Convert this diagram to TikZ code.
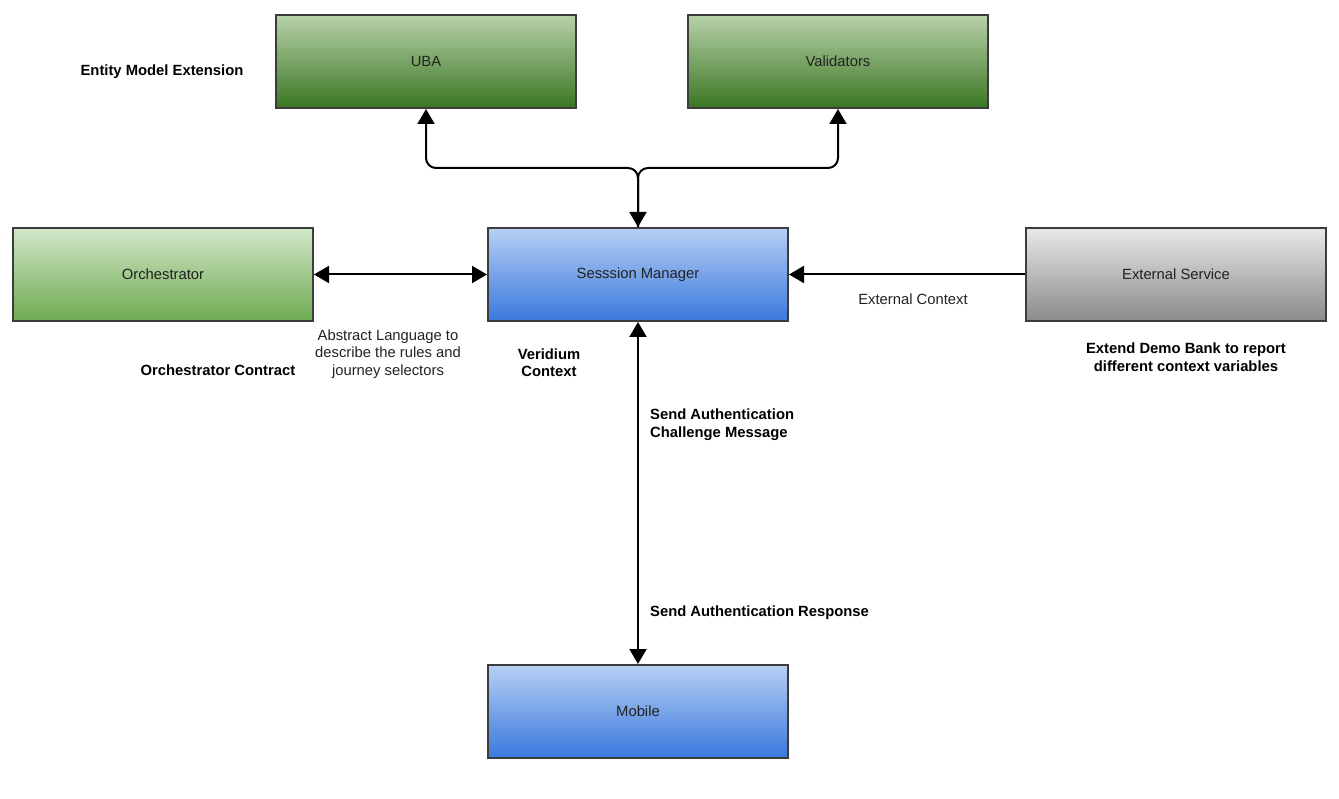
\documentclass[tikz,border=0pt]{standalone}
\usepackage{fontspec}
\setmainfont{Liberation Sans}
\usetikzlibrary{arrows.meta}
\definecolor{bordc}{HTML}{3C3C3C}
\definecolor{dgtop}{HTML}{B8D1A9}
\definecolor{dgbot}{HTML}{3A7623}
\definecolor{lgtop}{HTML}{D3E7C9}
\definecolor{lgbot}{HTML}{6DAA50}
\definecolor{bltop}{HTML}{B6CFF4}
\definecolor{blbot}{HTML}{3A78DC}
\definecolor{grtop}{HTML}{E8E8E8}
\definecolor{grbot}{HTML}{8A8A8A}
\definecolor{txtc}{HTML}{222222}
\begin{document}
\begin{tikzpicture}[x=1pt,y=-1pt,
  box/.style={rectangle, draw=bordc, line width=2pt, minimum width=300pt, minimum height=93pt, inner sep=0pt, font=\fontsize{14.8}{17.5}\selectfont, text=txtc},
  darkgreen/.style={box, top color=dgtop, bottom color=dgbot},
  lightgreen/.style={box, top color=lgtop, bottom color=lgbot},
  bluebox/.style={box, top color=bltop, bottom color=blbot},
  graybox/.style={box, top color=grtop, bottom color=grbot},
  lbl/.style={font=\fontsize{14.8}{17.5}\selectfont, text=txtc, align=center, inner sep=0pt},
  blbl/.style={font=\bfseries\fontsize{14.8}{17.5}\selectfont, text=black, align=center, inner sep=0pt},
  conn/.style={line width=2pt, black},
  tip/.tip={Triangle[width=17pt,length=15pt]}
]
\useasboundingbox (0,0) rectangle (1339,799);
\fill[white] (0,0) rectangle (1339,799);

\node[darkgreen] (uba) at (426,61.5) {UBA};
\node[darkgreen] (val) at (838,61.5) {Validators};
\node[lightgreen] (orch) at (163,274.5) {Orchestrator};
\node[bluebox] (sm) at (638,274.5) {Sesssion Manager};
\node[graybox] (ext) at (1176,274.5) {External Service};
\node[bluebox] (mob) at (638,711.5) {Mobile};

\coordinate (j) at (638,168);

\draw[conn, rounded corners=10pt, tip-tip] (sm.north) -- (j) -- (uba.south |- j) -- (uba.south);
\draw[conn, rounded corners=10pt, -tip] (sm.north) -- (j) -- (val.south |- j) -- (val.south);
\draw[conn, tip-tip] (orch.east) -- (sm.west);
\draw[conn, -tip] (ext.west) -- (sm.east);
\draw[conn, tip-tip] (sm.south) -- (mob.north);

\node[blbl] (t1) at (162,72) {Entity Model Extension};
\node[blbl] (t2) at (218,370.5) {Orchestrator Contract};
\node[lbl] (t3) at (388,354) {Abstract Language to\\describe the rules and\\journey selectors};
\node[blbl] (t4) at (549,362.5) {Veridium\\Context};
\node[lbl] (t5) at (913,299) {External Context};
\node[blbl] (t6) at (1186,357) {Extend Demo Bank to report\\different context variables};
\node[blbl, align=left, anchor=west] (t7) at (650,424.5) {Send Authentication\\Challenge Message};
\node[blbl, anchor=west] (t8) at (650,613) {Send Authentication Response};
\end{tikzpicture}
\end{document}
